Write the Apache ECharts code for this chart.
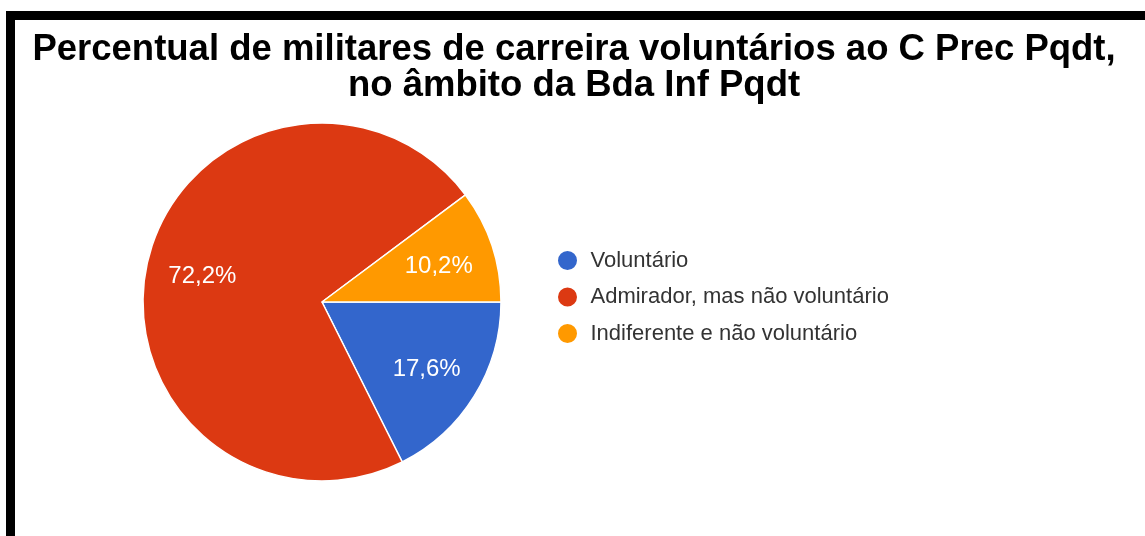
<!DOCTYPE html>
<html><head><meta charset="utf-8">
<script src="https://cdn.jsdelivr.net/npm/echarts@6/dist/echarts.min.js"></script>
<style>html,body{margin:0;padding:0;background:#fff}#c{width:1145px;height:536px}</style>
</head><body><div id="c"></div>
<script>
const titleLines = ['Percentual de militares de carreira voluntários ao C Prec Pqdt,', 'no âmbito da Bda Inf Pqdt'];
const categories = ['Voluntário', 'Admirador, mas não voluntário', 'Indiferente e não voluntário'];
const values = [17.6, 72.2, 10.2];
const colors = ['#3366cc', '#dc3912', '#ff9900'];

const data = categories.map((n, i) => ({ name: n, value: values[i], itemStyle: { color: colors[i] } }));
const fmt = p => p.value.toFixed(1).replace('.', ',') + '%';
const FONT = 'Liberation Sans, Arial, sans-serif';

const chart = echarts.init(document.getElementById('c'), null, { renderer: 'canvas' });
chart.setOption({
  animation: false,
  backgroundColor: '#fff',
  title: {
    text: titleLines.join('\n'),
    left: 574, textAlign: 'center', top: 32, padding: 0,
    textStyle: { fontFamily: FONT, fontWeight: 'bold', fontSize: 36.5, color: '#000', lineHeight: 36 }
  },
  graphic: [
    { type: 'rect', shape: { x: 6, y: 11, width: 9, height: 525 }, style: { fill: '#000' } },
    { type: 'rect', shape: { x: 6, y: 11, width: 1139, height: 9 }, style: { fill: '#000' } }
  ],
  legend: {
    orient: 'vertical', left: 556, top: 249, padding: 0,
    icon: 'circle', itemWidth: 36, itemHeight: 21, itemGap: 13.5,
    textStyle: { fontFamily: FONT, fontSize: 22, color: '#333', lineHeight: 22 },
    data: categories
  },
  series: [
    {
      type: 'pie', center: [322, 302], radius: [0, 179], startAngle: 0, clockwise: true,
      silent: true, data: data,
      itemStyle: { borderColor: '#fff', borderWidth: 1.5 },
      label: { show: false }, labelLine: { show: false }
    },
    {
      type: 'pie', center: [322, 302], radius: [0, 240], startAngle: 0, clockwise: true,
      silent: true, legendHoverLink: false,
      data: data.map(d => ({ name: d.name, value: d.value, itemStyle: { color: 'rgba(0,0,0,0)' } })),
      itemStyle: { borderWidth: 0 },
      label: { show: true, position: 'inside', formatter: fmt, color: '#fff', fontFamily: FONT, fontSize: 24, offset: [0, 3] },
      labelLine: { show: false }, emphasis: { disabled: true }
    }
  ]
});
</script></body></html>
